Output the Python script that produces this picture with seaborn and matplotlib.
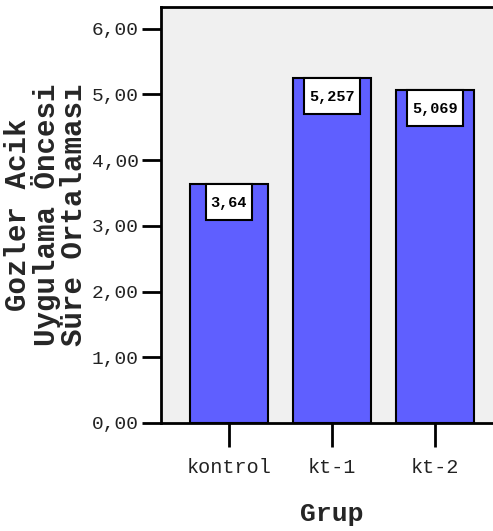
import matplotlib
matplotlib.use('Agg')
import matplotlib.pyplot as plt
from matplotlib.patches import Rectangle
import seaborn as sns
import pandas as pd

groups = ['kontrol', 'kt-1', 'kt-2']
means = [3.64, 5.257, 5.069]
value_labels = ['3,64', '5,257', '5,069']
y_ticks = [0, 1, 2, 3, 4, 5, 6]
y_tick_labels = ['0,00', '1,00', '2,00', '3,00', '4,00', '5,00', '6,00']

df = pd.DataFrame({'Grup': groups, 'mean': means})

sns.set_style('white')
plt.rcParams['font.family'] = ['Liberation Mono', 'DejaVu Sans Mono']

fig = plt.figure(figsize=(4.93, 5.31), dpi=100)
ax = fig.add_axes([161 / 493, 108 / 531, 342 / 493, 416 / 531])
ax.set_facecolor('#f0f0f0')

sns.barplot(data=df, x='Grup', y='mean', color='#5f5fff', saturation=1,
            width=0.75, edgecolor='black', linewidth=1.5, errorbar=None, ax=ax)

ax.set_xlim(-0.66, 2.66)
ax.set_ylim(0, 6.33)
ax.set_yticks(y_ticks)
ax.set_yticklabels(y_tick_labels)

# white value boxes hanging from the bar tops
box_h = 0.55
for i, (v, lab) in enumerate(zip(means, value_labels)):
    w = (10 * len(lab) + 6) / 103
    ax.add_patch(Rectangle((i - w / 2, v - box_h), w, box_h, facecolor='white',
                           edgecolor='black', linewidth=1.5, zorder=5))
    ax.text(i, v - 0.29, lab, ha='center', va='center', fontsize=11,
            fontweight='bold', color='black', zorder=6)

for side in ['left', 'bottom', 'top']:
    ax.spines[side].set_visible(True)
    ax.spines[side].set_color('black')
    ax.spines[side].set_linewidth(2)
ax.spines['right'].set_visible(False)

ax.tick_params(axis='y', direction='out', length=14, width=2, color='black',
               labelsize=14, labelcolor='#222222', pad=2, left=True)
ax.tick_params(axis='x', direction='out', length=17, width=2, color='black',
               labelsize=14.5, labelcolor='#222222', pad=8, bottom=True)

ax.set_xlabel('Grup', fontsize=19, fontweight='bold', labelpad=18)
ax.set_ylabel('Gozler Acik\nUygulama Öncesi\nSüre Ortalaması', fontsize=21,
              fontweight='bold', linespacing=0.95, labelpad=3)

fig.savefig('out.png', dpi=100)
